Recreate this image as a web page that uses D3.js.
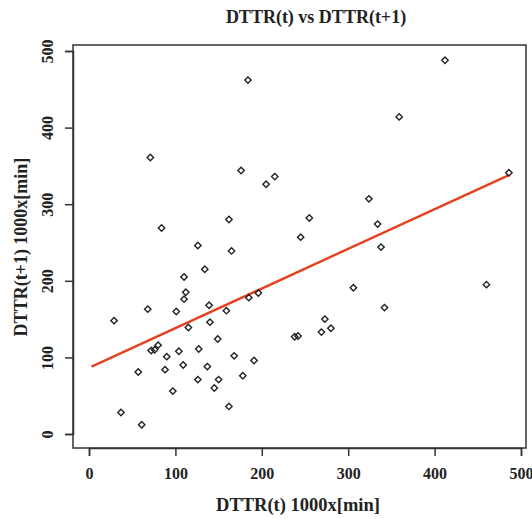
<!DOCTYPE html>
<html>
<head>
<meta charset="utf-8">
<script src="https://cdn.jsdelivr.net/npm/d3@7"></script>
<style>
  body { margin: 0; background: white; }
  text { font-family: "Liberation Serif", "Times New Roman", serif; font-weight: bold; fill: #222; }
</style>
</head>
<body>
<div id="visualization"></div>
<script>
let w = 532;
let h = 519;

// DTTR(t) values (x) and DTTR(t+1) values (y)
let dttrT = [184, 71, 176, 205, 215, 162, 84, 412, 359, 486, 324, 255, 334, 245, 338, 306, 460, 342, 273, 269,
  280, 238, 242, 126, 165, 134, 110, 112, 110, 68, 101, 139, 185, 196, 159, 29, 115, 140, 149, 72,
  76, 80, 90, 104, 127, 168, 191, 57, 88, 109, 137, 178, 126, 150, 145, 97, 162, 37, 61];
let dttrT1 = [462, 361, 344, 326, 336, 280, 269, 488, 414, 341, 307, 282, 274, 257, 244, 191, 195, 165, 150, 133,
  138, 127, 128, 246, 239, 215, 205, 185, 176, 163, 160, 168, 178, 184, 161, 148, 139, 146, 124, 109,
  110, 116, 101, 108, 111, 102, 96, 81, 84, 90, 88, 76, 71, 71, 60, 56, 36, 28, 12];

// fitted line end points
let fitX = [3, 486];
let fitY = [88, 338];

let xTicks = [0, 100, 200, 300, 400, 500];
let yTicks = [0, 100, 200, 300, 400, 500];

let box = {left: 73, right: 526, top: 45, bottom: 448};

let viz = d3.select("#visualization")
  .append("svg")
  .attr("width", w)
  .attr("height", h)
  .style("background-color", "white")
;

let xScale = d3.scaleLinear().domain([0, 500]).range([89, 521]);
let yScale = d3.scaleLinear().domain([0, 500]).range([434, 51]);

// frame
viz.append("rect")
  .attr("x", box.left)
  .attr("y", box.top)
  .attr("width", box.right - box.left)
  .attr("height", box.bottom - box.top)
  .attr("fill", "none")
  .attr("stroke", "#333")
  .attr("stroke-width", 1.5)
;

// axes
let xAxis = d3.axisBottom(xScale).tickValues(xTicks).tickSize(8).tickPadding(12);
let xAxisGroup = viz.append("g")
  .attr("transform", "translate(0," + box.bottom + ")")
  .call(xAxis);

let yAxis = d3.axisLeft(yScale).tickValues(yTicks).tickSize(8).tickPadding(10);
let yAxisGroup = viz.append("g")
  .attr("transform", "translate(" + box.left + ",0)")
  .call(yAxis);

viz.selectAll(".domain").attr("stroke", "#333").attr("stroke-width", 1.5);
viz.selectAll(".tick line").attr("stroke", "#333").attr("stroke-width", 1.5);
viz.selectAll(".tick text")
  .style("font-family", "Liberation Serif, serif")
  .style("font-weight", "bold")
  .style("font-size", "16px")
  .attr("fill", "#222");

// y tick labels are rotated like R's default
yAxisGroup.selectAll(".tick text")
  .attr("x", 0)
  .attr("dy", 0)
  .attr("text-anchor", "middle")
  .attr("transform", "translate(-24,0) rotate(-90)")
  .attr("dominant-baseline", "middle");

// regression line
viz.append("line")
  .attr("x1", xScale(fitX[0]))
  .attr("y1", yScale(fitY[0]))
  .attr("x2", xScale(fitX[1]))
  .attr("y2", yScale(fitY[1]))
  .attr("stroke", "#e5401f")
  .attr("stroke-width", 2.4)
;

// points
let pts = dttrT.map((d, i) => ({x: d, y: dttrT1[i]}));
let diamond = "M0,-3.2L3.2,0L0,3.2L-3.2,0Z";

viz.selectAll(".datapoint").data(pts).enter()
  .append("path")
  .attr("class", "datapoint")
  .attr("d", diamond)
  .attr("transform", d => "translate(" + xScale(d.x) + "," + yScale(d.y) + ")")
  .attr("fill", "none")
  .attr("stroke", "#222")
  .attr("stroke-width", 1.4)
;

// titles
viz.append("text")
  .attr("x", 316)
  .attr("y", 23)
  .attr("text-anchor", "middle")
  .style("font-size", "18px")
  .text("DTTR(t) vs DTTR(t+1)");

viz.append("text")
  .attr("x", 298)
  .attr("y", 511)
  .attr("text-anchor", "middle")
  .style("font-size", "18.5px")
  .text("DTTR(t) 1000x[min]");

viz.append("text")
  .attr("transform", "translate(27,247) rotate(-90)")
  .attr("text-anchor", "middle")
  .style("font-size", "18px")
  .text("DTTR(t+1) 1000x[min]");
</script>
</body>
</html>
